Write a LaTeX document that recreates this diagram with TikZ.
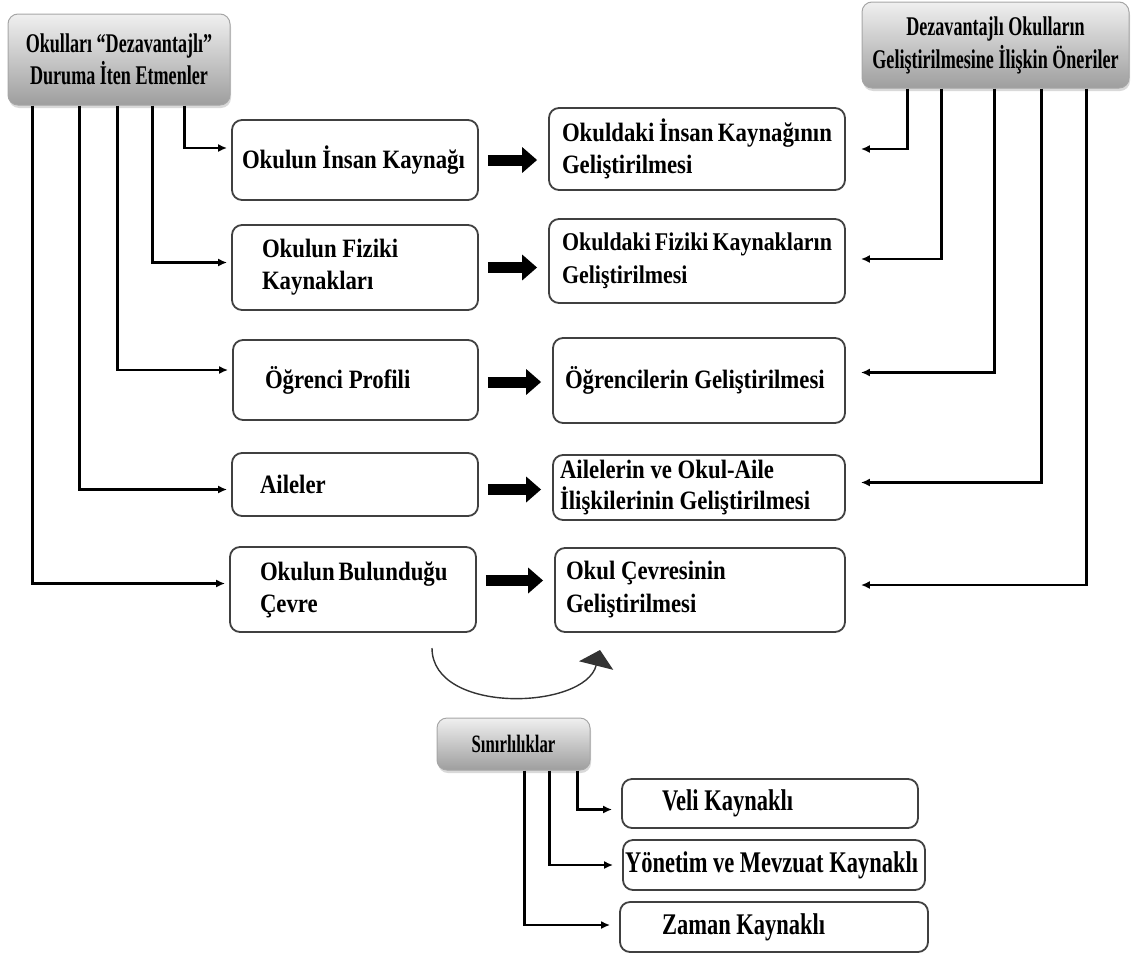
\documentclass[tikz,border=0pt]{standalone}
\usepackage{fontspec}
\newfontfamily\boxfont{Liberation Serif Bold}[FakeStretch=0.86]
\newfontfamily\headfont{Liberation Serif Bold}[FakeStretch=0.67]
\newfontfamily\subfont{Liberation Serif Bold}[FakeStretch=0.75]
\usetikzlibrary{arrows.meta,shadows}
\hyphenpenalty=10000
\exhyphenpenalty=10000

\begin{document}
\begin{tikzpicture}[x=1pt,y=-1pt,
    box/.style={draw=black!75, line width=1.8pt, rounded corners=10pt, fill=white, align=flush left, inner ysep=1pt, font=\boxfont\fontsize{26.5}{32}\selectfont},
    head/.style={draw=black!35, line width=1pt, rounded corners=10pt, top color=black!6, bottom color=black!38, drop shadow={opacity=.3,shadow xshift=1pt,shadow yshift=-3pt}, align=center, font=\headfont\fontsize{27}{32}\selectfont},
    conn/.style={line width=2.3pt, -{Latex[length=9pt,width=8pt]}},
    big/.style={line width=11pt, -{Triangle[length=15pt,width=25pt]}}]
\useasboundingbox (0,0) rectangle (1131,953);
% heads
\node[head, minimum width=222pt, minimum height=91pt] (LT) at (119,59.5) {Okulları “Dezavantajlı”\\Duruma İten Etmenler};
\node[head, minimum width=267pt, minimum height=86pt, font=\headfont\fontsize{27}{33}\selectfont] (RT) at (995.5,45) {Dezavantajlı Okulların\\Geliştirilmesine İlişkin Öneriler};
\node[head, minimum width=153pt, minimum height=52pt, font=\headfont\fontsize{25}{28}\selectfont] (SN) at (513.5,744) {Sınırlılıklar};
% left column
\node[box, text width=226pt, inner xsep=10pt, minimum height=80pt] (L1) at (355,160) {Okulun~İnsan~Kaynağı};
\node[box, text width=186pt, inner xsep=30pt, minimum height=85pt] (L2) at (355,267.5) {Okulun~Fiziki\\Kaynakları};
\node[box, text width=181pt, inner xsep=32pt, minimum height=80pt] (L3) at (355.5,380) {Öğrenci~Profili};
\node[box, text width=190pt, inner xsep=28pt, minimum height=63pt] (L4) at (355,484.5) {Aileler};
\node[box, text width=186pt, inner xsep=30pt, minimum height=85pt] (L5) at (353,589.5) {Okulun~Bulunduğu\\Çevre};
% right column
\node[box, text width=270pt, inner xsep=13pt, minimum height=82pt] (R1) at (697,149) {Okuldaki~İnsan~Kaynağının\\Geliştirilmesi};
\node[box, text width=270pt, inner xsep=13pt, minimum height=84pt, font=\boxfont\fontsize{25.5}{33}\selectfont] (R2) at (697,261) {Okuldaki~Fiziki~Kaynakların\\Geliştirilmesi};
\node[box, text width=268pt, inner xsep=12pt, minimum height=85pt] (R3) at (699,380.5) {Öğrencilerin~Geliştirilmesi};
\node[box, text width=278pt, inner xsep=7pt, minimum height=65pt, font=\boxfont\fontsize{26.5}{31}\selectfont] (R4) at (699,487.5) {Ailelerin~ve~Okul-Aile\\İlişkilerinin~Geliştirilmesi};
\node[box, text width=268pt, inner xsep=11pt, minimum height=84pt, font=\boxfont\fontsize{26.5}{33}\selectfont] (R5) at (700,590) {Okul~Çevresinin\\Geliştirilmesi};
% limits
\node[box, font=\subfont\fontsize{30}{34}\selectfont, text width=216pt, inner xsep=40pt, minimum height=49pt] (B1) at (770,803.5) {Veli~Kaynaklı};
\node[box, font=\subfont\fontsize{30}{34}\selectfont, text width=298pt, inner xsep=2pt, minimum height=50pt] (B2) at (774,865) {Yönetim~ve~Mevzuat~Kaynaklı};
\node[box, font=\subfont\fontsize{30}{34}\selectfont, text width=224pt, inner xsep=42pt, minimum height=50pt] (B3) at (774,927) {Zaman~Kaynaklı};

\foreach \dx/\t/\dy in {177/L1/12, 145/L2/5, 110/L3/10, 72/L4/-5, 25/L5/6}
    \draw[conn, shorten >=4pt] ([xshift=\dx pt]LT.south west) |- ([yshift=\dy pt]\t.west);
\foreach \dx/\t/\dy in {46/R1/0, 80/R2/2, 133/R3/8, 180/R4/5, 225/R5/5}
    \draw[conn, shorten >=15pt] ([xshift=\dx pt]RT.south west) |- ([yshift=\dy pt]\t.east);
\foreach \dx/\t/\dy in {141/B1/-6, 113/B2/0, 88/B3/2}
    \draw[conn, shorten >=9pt] ([xshift=\dx pt]SN.south west) |- ([yshift=\dy pt]\t.west);

\foreach \i/\dy in {1/0, 2/0, 3/-2, 4/-5, 5/9}
    \draw[big, shorten <=9pt, shorten >=11pt] ([yshift=\dy pt]L\i.east) -- ([yshift=\dy pt]L\i.east -| R\i.west);

\coordinate (cs) at (432,648);
\coordinate (ce) at (600,650);
\draw[line width=1.4pt, black!80, -{Triangle[length=16pt,width=35pt]}] (cs) .. controls (432,715) and (585,710) .. (ce);
\end{tikzpicture}
\end{document}
